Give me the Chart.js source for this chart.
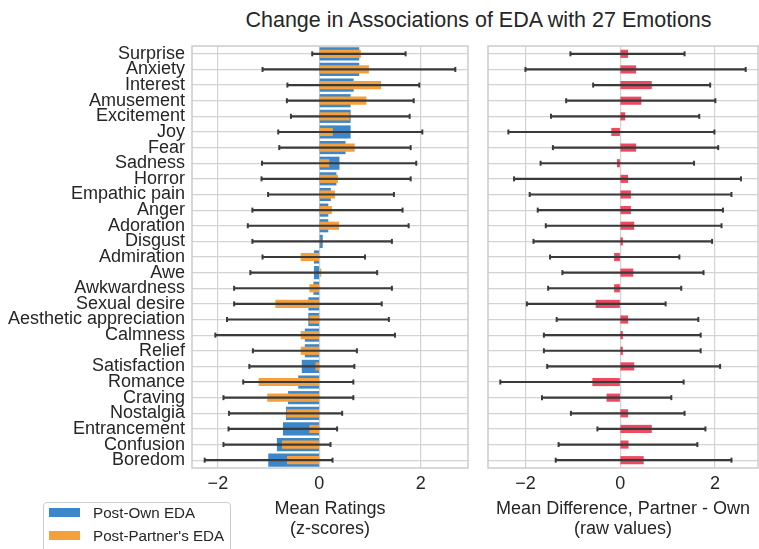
<!DOCTYPE html>
<html>
<head>
<meta charset="utf-8">
<script src="https://cdn.jsdelivr.net/npm/chart.js@4.4.0/dist/chart.umd.min.js"></script>
<style>
  body { margin: 0; width: 759px; height: 549px; overflow: hidden; background: #fff; position: relative;
         font-family: "Liberation Sans", Arial, sans-serif; color: #262626; }
  #titulo { position: absolute; left: 178px; width: 601px; top: 8px; line-height: 24px; font-size: 21.5px; text-align: center; white-space: nowrap; }
  #graficoIzq { position: absolute; left: 0; top: 0; }
  #graficoDer { position: absolute; left: 482px; top: 0; }
  #leyenda { position: absolute; left: 43px; top: 502px; width: 186px; height: 60px; border: 1px solid #cccccc;
             border-radius: 4px; background: #fff; font-size: 15.2px; }
  .item { position: absolute; left: 5px; height: 20px; line-height: 20px; white-space: nowrap; }
  .item span { display: inline-block; width: 31px; height: 9px; vertical-align: middle; margin-right: 13px; margin-top: -2px; }
</style>
</head>
<body>
<div id="titulo">Change in Associations of EDA with 27 Emotions</div>
<canvas id="graficoIzq" width="474" height="549"></canvas>
<canvas id="graficoDer" width="282" height="549"></canvas>
<div id="leyenda">
  <div class="item" style="top:0px"><span style="background:#3b87c9"></span>Post-Own EDA</div>
  <div class="item" style="top:23px"><span style="background:#f5a03a"></span>Post-Partner's EDA</div>
</div>
<script>
const emotions = ['Surprise', 'Anxiety', 'Interest', 'Amusement', 'Excitement', 'Joy', 'Fear', 'Sadness', 'Horror',
  'Empathic pain', 'Anger', 'Adoration', 'Disgust', 'Admiration', 'Awe', 'Awkwardness', 'Sexual desire',
  'Aesthetic appreciation', 'Calmness', 'Relief', 'Satisfaction', 'Romance', 'Craving', 'Nostalgia',
  'Entrancement', 'Confusion', 'Boredom'];

// mean ratings (z-scores)
const ownMean = [0.78, 0.78, 0.67, 0.61, 0.61, 0.61, 0.51, 0.39, 0.33, 0.22, 0.17, 0.17, 0.06, -0.10, -0.10,
  -0.11, -0.21, -0.21, -0.28, -0.28, -0.34, -0.41, -0.61, -0.65, -0.71, -0.83, -1.00];
const partnerMean = [0.81, 0.97, 1.21, 0.92, 0.59, 0.26, 0.69, 0.19, 0.36, 0.30, 0.24, 0.38, 0.01, -0.36, 0.03,
  -0.19, -0.86, -0.19, -0.36, -0.36, -0.07, -1.19, -1.02, -0.64, -0.19, -0.73, -0.63];
const ownLo = [-0.14, -1.12, -0.63, -0.64, -0.56, -0.81, -0.79, -1.13, -1.14, -1.01, -1.32, -1.41, -1.32, -1.12,
  -1.36, -1.68, -1.68, -1.82, -2.05, -1.31, -1.38, -1.50, -1.89, -1.78, -1.79, -1.89, -2.26];
const ownHi = [1.70, 2.68, 1.97, 1.86, 1.78, 2.03, 1.80, 1.91, 1.80, 1.47, 1.64, 1.76, 1.43, 0.90, 1.14, 1.43,
  1.23, 1.37, 1.49, 0.74, 0.69, 0.67, 0.67, 0.45, 0.35, 0.22, 0.26];

// mean difference partner - own (raw values)
const diffMean = [0.16, 0.33, 0.66, 0.44, 0.10, -0.18, 0.33, -0.06, 0.16, 0.22, 0.22, 0.29, 0.05, -0.12, 0.27,
  -0.12, -0.51, 0.16, 0.05, 0.05, 0.29, -0.58, -0.28, 0.16, 0.66, 0.17, 0.49];
const diffLo = [-1.05, -2.00, -0.57, -1.14, -1.46, -2.36, -1.42, -1.68, -2.24, -1.91, -1.74, -1.57, -1.83, -1.48,
  -1.22, -1.52, -1.97, -1.34, -1.61, -1.61, -1.54, -2.53, -1.65, -1.04, -0.48, -1.30, -1.36];
const diffHi = [1.36, 2.65, 1.90, 2.01, 1.67, 1.99, 2.07, 1.56, 2.55, 2.35, 2.17, 2.14, 1.94, 1.25, 1.76, 1.29,
  0.96, 1.65, 1.70, 1.70, 2.11, 1.34, 1.08, 1.36, 1.80, 1.63, 2.35];

const xTicks = [-2, 0, 2];

const azul = '#3b87c9', naranja = '#f5a03a', rojo = '#ec4a60', negro = '#3a3a3a';
const gris = '#d3d3d3', texto = '#262626';
Chart.defaults.font.family = '"Liberation Sans", Arial, sans-serif';
Chart.defaults.animation = false;

// marco gris alrededor del area del grafico
const marco = {
  id: 'marco',
  afterDraw(chart) {
    const {ctx, chartArea: a} = chart;
    ctx.save();
    ctx.strokeStyle = '#cccccc'; ctx.lineWidth = 1.5;
    ctx.strokeRect(a.left, a.top, a.right - a.left, a.bottom - a.top);
    ctx.restore();
  }
};

function barrasError(lo, hi){
  return [
    {type: 'bar', data: emotions.map((e, i) => [lo[i], hi[i]]), backgroundColor: negro,
      barThickness: 1.5, grouped: false, order: 2},
    {type: 'scatter', data: emotions.flatMap((e, i) => [{x: lo[i], y: e}, {x: hi[i], y: e}]),
      pointStyle: 'line', rotation: 90, radius: 2.5, borderWidth: 2, borderColor: negro, order: 1}
  ];
}

function escalas(min, max, titulo, anchoY, mostrarY){
  return {
    x: {
      type: 'linear', min: min, max: max, bounds: 'data',
      afterBuildTicks: s => { s.ticks = xTicks.map(v => ({value: v})); },
      ticks: {font: {size: 18}, color: texto, padding: 5, callback: v => String(v).replace('-', '\u2212')},
      grid: {color: gris, lineWidth: 1.2, drawTicks: false},
      border: {display: false},
      title: {display: true, text: titulo, font: {size: 18, lineHeight: 1.1}, color: texto, padding: {top: 0, bottom: 10}},
      afterFit: s => { s.height = 81; }
    },
    y: {
      type: 'category',
      ticks: {display: mostrarY, autoSkip: false, font: {size: 18}, color: texto, padding: 7},
      grid: {offset: false, color: gris, lineWidth: 1.2, drawTicks: false},
      border: {display: false},
      afterFit: s => { s.width = anchoY; }
    }
  };
}

function opciones(min, max, titulo, anchoY, mostrarY, padDer){
  return {
    responsive: false,
    indexAxis: 'y',
    layout: {padding: {top: 46, right: padDer, left: 0, bottom: 0}},
    plugins: {legend: {display: false}, tooltip: {enabled: false}},
    scales: escalas(min, max, titulo, anchoY, mostrarY)
  };
}

new Chart(document.getElementById('graficoIzq').getContext('2d'), {
  type: 'bar',
  data: {
    labels: emotions,
    datasets: [
      {label: 'Post-Own EDA', data: ownMean, backgroundColor: azul, barThickness: 12.5, grouped: false, order: 4},
      {label: "Post-Partner's EDA", data: partnerMean, backgroundColor: naranja, barThickness: 7.5, grouped: false, order: 3},
      ...barrasError(ownLo, ownHi)
    ]
  },
  options: opciones(-2.51, 2.93, ['Mean Ratings', '(z-scores)'], 192, true, 1.5),
  plugins: [marco]
});

new Chart(document.getElementById('graficoDer').getContext('2d'), {
  type: 'bar',
  data: {
    labels: emotions,
    datasets: [
      {label: 'Partner - Own', data: diffMean, backgroundColor: rojo, barThickness: 7.5, grouped: false, order: 3},
      ...barrasError(diffLo, diffHi)
    ]
  },
  options: opciones(-2.79, 2.91, ['Mean Difference, Partner - Own', '(raw values)'], 5, false, 2.4),
  plugins: [marco]
});
</script>
</body>
</html>
